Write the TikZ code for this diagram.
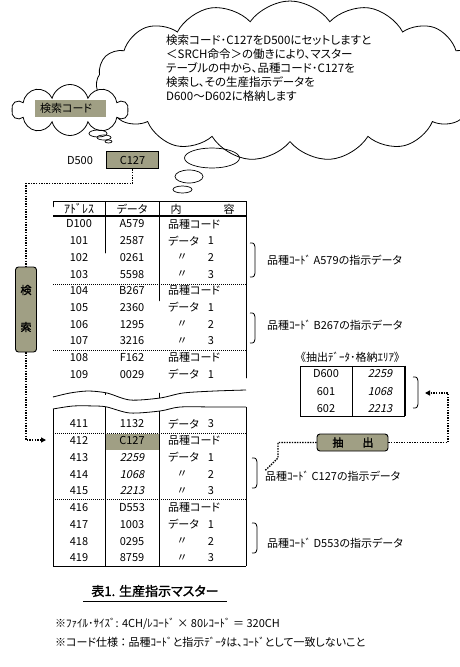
\documentclass[tikz,border=0pt]{standalone}
\usepackage{fontspec}
\setmainfont{Noto Sans CJK JP}[RawFeature=+palt]
\newfontfamily\jpslant{Noto Sans CJK JP}[FakeSlant=0.22]
\newfontfamily\jpbold{Noto Sans CJK JP}[FakeBold=1.6,RawFeature=+palt]
\usetikzlibrary{shapes.symbols,shapes.geometric,arrows.meta}
\definecolor{olivebox}{RGB}{160,159,132}
\begin{document}
\begin{tikzpicture}[x=1pt,y=-1pt,
  every node/.style={inner sep=0pt, font=\fontsize{11}{12}\selectfont},
  cell/.style={anchor=center},
  lcell/.style={anchor=west},
  tline/.style={line width=0.8pt},
  sepline/.style={line width=0.8pt, dash pattern=on 0.8pt off 1.2pt},
  conn/.style={line width=1.4pt, dash pattern=on 1.4pt off 1.2pt},
  brk/.style={line width=0.8pt},
  btn/.style={draw, line width=0.9pt, rounded corners=3pt, fill=olivebox},
  bubble/.style={ellipse, draw, line width=0.7pt, inner sep=0pt},
  cloudshape/.style={cloud, draw, line width=0.8pt, fill=white, cloud ignores aspect},
  lbl/.style={anchor=west, font=\fontsize{11}{13}\selectfont},
  tip/.style={-{Triangle[length=5pt,width=5pt]}}
]
\fill[white] (0,0) rectangle (460,667);
\useasboundingbox (0,0) rectangle (460,667);

% ---------- clouds ----------
\node[cloudshape, cloud puffs=15, cloud puff arc=110,
      minimum width=388pt, minimum height=160pt] (bigcloud) at (290,81) {};
\node[anchor=north west, align=left, font=\fontsize{11.5}{13.8}\selectfont] (cloudtxt) at (166,35)
 {検索コード･C127をD500にセットしますと\\＜SRCH命令＞の働きにより、マスター\\テーブルの中から、品種コード･C127を\\検索し、その生産指示データを\\D600～D602に格納します};
\node[bubble, minimum width=55pt, minimum height=20pt] (bb1) at (212,158) {};
\node[bubble, minimum width=28pt, minimum height=13pt] (bb2) at (189,176.5) {};
\node[bubble, minimum width=19pt, minimum height=7pt] (bb3) at (182.5,189.5) {};

\node[cloudshape, cloud puffs=10,
      minimum width=116pt, minimum height=51pt] (smcloud) at (70,110) {};
\node[anchor=west, fill=olivebox, minimum width=71pt, minimum height=17pt,
      text width=61pt, inner xsep=5pt, align=left, font=\fontsize{11}{13}\selectfont] (keylbl) at (35,108.5) {検索コード};
\node[bubble, minimum width=18pt, minimum height=7pt] (sb1) at (98,133.5) {};
\node[bubble, minimum width=14pt, minimum height=5pt] (sb2) at (104,137.5) {};
\node[bubble, minimum width=7pt, minimum height=3pt] (sb3) at (108.5,141.5) {};

% ---------- D500 ----------
\node[cell] (d500lbl) at (80,161) {D500};
\node[draw, line width=1.8pt, fill=olivebox, minimum width=52pt, minimum height=17pt] (d500box) at (132.5,160) {C127};

% ---------- table upper part ----------
\begin{scope}
\clip (40,195) -- (260,195) -- (260,390) plot[smooth] coordinates {(246,390) (215,391) (183,393) (160,398) (130,400) (107,393) (88,391) (70,393) (53,397)} -- (40,397) -- cycle;
\draw[tline] (53,201) -- (53,400);
\draw[tline] (105,201) -- (105,403);
\draw[tline] (159,201) -- (159,403);
\draw[tline] (246,201) -- (246,400);
\end{scope}
\draw[tline] plot[smooth] coordinates {(53,397) (70,393) (88,391) (107,393) (130,400) (160,398) (183,393) (215,391) (246,390)};
\draw[tline] (53,201) -- (246,201);
\draw[line width=1.3pt] (53,216) -- (246,216);
\draw[sepline] (53,284) -- (246,284);
\draw[sepline] (53,350) -- (246,350);

\node[cell, font=\fontsize{12}{13}\selectfont] (h1) at (79,209) {ｱﾄﾞﾚｽ};
\node[cell, font=\fontsize{11}{13}\selectfont] (h2) at (132,209) {データ};
\node[cell, font=\fontsize{11}{13}\selectfont] (h3a) at (176,209) {内};
\node[cell, font=\fontsize{11}{13}\selectfont] (h3b) at (229,209) {容};

\foreach \i/\a/\d/\t/\n in {0/D100/A579/0/0,1/101/2587/1/1,2/102/0261/2/2,3/103/5598/2/3,
  4/104/B267/0/0,5/105/2360/1/1,6/106/1295/2/2,7/107/3216/2/3,8/108/F162/0/0,9/109/0029/1/1}{
  \pgfmathsetmacro\yy{224+16.7*\i}
  \node[cell] (u\i-a) at (79,\yy) {\a};
  \node[cell] (u\i-b) at (132,\yy) {\d};
  \ifcase\t
    \node[lcell] (u\i-c) at (168,\yy) {品種コード};
  \or
    \node[lcell] (u\i-c) at (168,\yy) {データ};
    \node[cell] (u\i-n) at (211,\yy) {\n};
  \or
    \node[cell] (u\i-c) at (182,\yy) {〃};
    \node[cell] (u\i-n) at (211,\yy) {\n};
  \fi
}

% ---------- table lower part ----------
\fill[olivebox] (105.4,434) rectangle (158.6,450);
\begin{scope}
\clip plot[smooth] coordinates {(53,409) (73,406) (95,406) (107,407) (130,413) (160,411) (180,407) (215,407) (246,407)} -- (260,407) -- (260,580) -- (40,580) -- (40,409) -- cycle;
\draw[tline] (53,400) -- (53,566);
\draw[tline] (105,400) -- (105,566);
\draw[tline] (159,400) -- (159,566);
\draw[tline] (246,400) -- (246,566);
\end{scope}
\draw[tline] plot[smooth] coordinates {(53,409) (73,406) (95,406) (107,407) (130,413) (160,411) (180,407) (215,407) (246,407)};
\draw[tline] (53,566) -- (246,566);
\draw[sepline] (53,433) -- (246,433);
\draw[sepline] (53,499) -- (246,499);

\foreach \i/\a/\d/\t/\n in {0/411/1132/1/3,1/412/C127/0/0,2/413/{\jpslant 2259}/1/1,3/414/{\jpslant 1068}/2/2,
  4/415/{\jpslant 2213}/2/3,5/416/D553/0/0,6/417/1003/1/1,7/418/0295/2/2,8/419/8759/2/3}{
  \pgfmathsetmacro\yy{424+16.75*\i}
  \node[cell] (l\i-a) at (79,\yy) {\a};
  \node[cell] (l\i-b) at (132,\yy) {\d};
  \ifcase\t
    \node[lcell] (l\i-c) at (168,\yy) {品種コード};
  \or
    \node[lcell] (l\i-c) at (168,\yy) {データ};
    \node[cell] (l\i-n) at (211,\yy) {\n};
  \or
    \node[cell] (l\i-c) at (182,\yy) {〃};
    \node[cell] (l\i-n) at (211,\yy) {\n};
  \fi
}

% ---------- brackets and labels ----------
\draw[brk] (250,243) .. controls (254,243) .. (255,247) -- (255,273) .. controls (254,277) .. (250,277);
\draw[brk] (250,313) .. controls (254,313) .. (255,317) -- (255,339) .. controls (254,343) .. (250,343);
\draw[brk] (252,458) .. controls (256,458) .. (257,462) -- (257,484) .. controls (256,488) .. (252,488);
\draw[brk] (252,523) .. controls (256,523) .. (257,527) -- (257,549) .. controls (256,553) .. (252,553);
\node[lbl] (lblA) at (267,260) {品種ｺｰﾄﾞ A579の指示データ};
\node[lbl] (lblB) at (267,325) {品種ｺｰﾄﾞ B267の指示データ};
\node[lbl] (lblC) at (265,476) {品種ｺｰﾄﾞ C127の指示データ};
\node[lbl] (lblD) at (267,543) {品種ｺｰﾄﾞ D553の指示データ};

% ---------- extraction area ----------
\node[cell, font=\fontsize{11}{13}\selectfont] (exttitle) at (350,357) {《抽出ﾃﾞｰﾀ･格納ｴﾘｱ》};
\draw[tline] (405,366) -- (300,366) -- (300,416) -- (405,416);
\draw[line width=1.8pt] (405,365.6) -- (405,416.4);
\draw[tline] (352,366) -- (352,416);
\node[cell] (e0-a) at (326,374) {D600};
\node[cell] (e1-a) at (326,392) {601};
\node[cell] (e2-a) at (326,409) {602};
\node[cell] (e0-b) at (380,374) {\jpslant 2259};
\node[cell] (e1-b) at (380,392) {\jpslant 1068};
\node[cell] (e2-b) at (380,409) {\jpslant 2213};
\draw[brk] (413,377) .. controls (417,377) .. (418,381) -- (418,404) .. controls (417,408) .. (413,408);

% ---------- buttons ----------
\node[btn, minimum width=21pt, minimum height=85pt] (srch) at (26,309.5) {};
\node[cell, font=\jpbold\fontsize{11}{13}\selectfont] (srchA) at (26,290) {検};
\node[cell, font=\jpbold\fontsize{11}{13}\selectfont] (srchB) at (26,327) {索};
\node[btn, minimum width=71pt, minimum height=17pt] (ext) at (352.5,442.5) {};
\node[cell, font=\jpbold\fontsize{11}{13}\selectfont] (extA) at (338,442.5) {抽};
\node[cell, font=\jpbold\fontsize{11}{13}\selectfont] (extB) at (368,442.5) {出};

% ---------- connectors ----------
\coordinate (tipL) at (46,440);
\coordinate (tipR) at (425,393);
\coordinate (cR) at (448,393);
\draw[conn] (d500box.south) -- ++(0,14) -| (srch.north);
\draw[conn, tip] (srch.south) |- (tipL);
\draw[conn, tip] (ext.east) -| (cR) -- (tipR);
\draw[conn] (ext.west) -- (278,442.5) -- (278,458) -- (lblC.north west);

% ---------- caption & notes ----------
\node[cell, font=\jpbold\fontsize{13}{15}\selectfont] (title) at (155,591) {表1. 生産指示マスター};
\draw[line width=1pt] (83,601) -- (227,601);
\node[lbl] (note1) at (55,624) {※ﾌｧｲﾙ･ｻｲｽﾞ: 4CH/ﾚｺｰﾄﾞ × 80ﾚｺｰﾄﾞ ＝ 320CH};
\node[lbl] (note2) at (55,642) {※コード仕様 ： 品種ｺｰﾄﾞと指示ﾃﾞｰﾀは、ｺｰﾄﾞとして一致しないこと};
\end{tikzpicture}
\end{document}
